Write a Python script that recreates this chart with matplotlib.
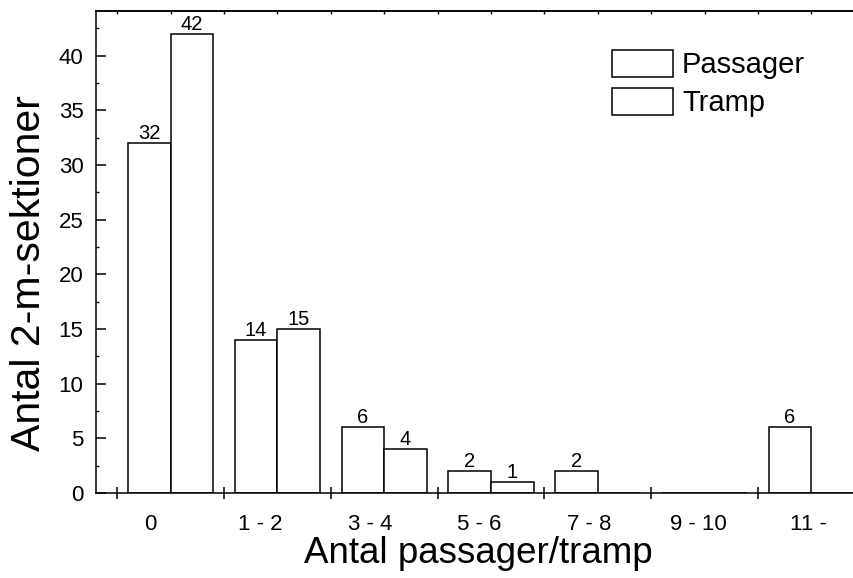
import matplotlib
matplotlib.use('Agg')
import matplotlib.pyplot as plt
import numpy as np

# data
categories = ['0', '1 - 2', '3 - 4', '5 - 6', '7 - 8', '9 - 10', '11 -']
passager = [32, 14, 6, 2, 2, 0, 6]
tramp = [42, 15, 4, 1, 0, 0, 0]

plt.rcParams['font.family'] = ['Liberation Sans', 'DejaVu Sans']

fig = plt.figure(figsize=(8.54, 5.78), dpi=100)
ax = fig.add_axes([96/854, 1-493/578, 1-96/854, 482/578])

x = np.arange(len(categories))
w = 0.4
b1 = ax.bar(x - w/2, passager, w, color='white', edgecolor='black', linewidth=1.1, label='Passager')
b2 = ax.bar(x + w/2, tramp, w, color='white', edgecolor='black', linewidth=1.1, label='Tramp')
ax.bar_label(b1, labels=[str(v) if v else '' for v in passager], padding=0, fontsize=14.5)
ax.bar_label(b2, labels=[str(v) if v else '' for v in tramp], padding=0, fontsize=14.5)

ax.set_xlim(-0.7, 6.4)
ax.set_ylim(0, 44.1)

for s in ['left', 'bottom', 'top']:
    ax.spines[s].set_linewidth(1.1)
ax.spines['right'].set_visible(False)

# y ticks
ax.set_yticks(np.arange(0, 41, 5))
ax.set_yticks(np.arange(0, 44, 2.5), minor=True)
ax.tick_params(axis='y', which='major', direction='in', length=7.5, width=1.1, labelsize=16, pad=9)
ax.tick_params(axis='y', which='minor', direction='in', length=2.5, width=1.0)

# x: boundary ticks as minor, labels on major without marks
lab_pos = np.arange(len(categories)) * 1.027 - 0.19
ax.set_xticks(lab_pos)
ax.set_xticklabels(categories)
ax.set_xticks(np.arange(-0.5, 6, 1.0), minor=True)
ax.tick_params(axis='x', which='major', length=0, labelsize=16, pad=15)
ax.tick_params(axis='x', which='minor', direction='inout', length=9, width=1.1)

# little ticks on top spine
sec = ax.secondary_xaxis('top')
sec.set_xticks(np.arange(-0.5, 6.5, 0.5))
sec.tick_params(direction='in', length=2.5, width=1.0, labelsize=0, labeltop=False)
sec.spines['top'].set_linewidth(1.1)

ax.set_xlabel('Antal passager/tramp', fontsize=26.5)
ax.xaxis.set_label_coords(0.505, -0.09)
ax.set_ylabel('Antal 2-m-sektioner', fontsize=29.5)
ax.yaxis.set_label_coords(-0.063, 0.456)

ax.legend(loc='upper left', bbox_to_anchor=(612/854, 1-50/578), bbox_transform=fig.transFigure,
          frameon=False, fontsize=21, handlelength=2.1, handleheight=1.03,
          labelspacing=0.3, handletextpad=0.3, borderpad=0, borderaxespad=0)

plt.savefig('out.png', dpi=100)
